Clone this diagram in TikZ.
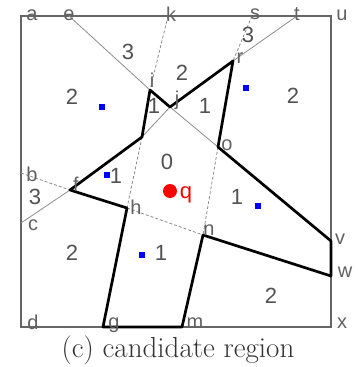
\documentclass[tikz,border=0pt]{standalone}
\usepackage{fontspec}
\newfontfamily\labfont{Liberation Sans}
\begin{document}
\begin{tikzpicture}[x=1pt,y=-1pt,
  lbl/.style={font=\labfont\fontsize{20}{20}\selectfont, text=black!62, inner sep=0pt},
  reg/.style={font=\labfont\fontsize{22}{22}\selectfont, text=black!68, inner sep=0pt},
  thinline/.style={draw=black!45, line width=0.8pt},
  dashline/.style={draw=black!45, line width=0.8pt, dash pattern=on 3pt off 2pt},
  frameline/.style={draw=black!60, line width=1.8pt},
  polyline/.style={draw=black, line width=2.7pt, line join=round},
  site/.style={fill=blue, minimum size=6.5pt, inner sep=0pt, draw=none}
]
\useasboundingbox (0,0) rectangle (357,367);
% corner and edge points
\coordinate (pa) at (21,16);
\coordinate (pe) at (69,16);
\coordinate (pk) at (168,16);
\coordinate (ps) at (252,16);
\coordinate (pt) at (297,16);
\coordinate (pu) at (331,16);
\coordinate (pb) at (21,173);
\coordinate (pc) at (21,223);
\coordinate (pd) at (21,327);
\coordinate (px) at (331,327);
\coordinate (pv) at (331,241);
\coordinate (pw) at (331,276);
% interior vertices
\coordinate (pi) at (150,90);
\coordinate (pj) at (170,107);
\coordinate (pr) at (233,61);
\coordinate (po) at (218,147);
\coordinate (pn) at (203,235);
\coordinate (pm) at (182,327);
\coordinate (pg) at (103,327);
\coordinate (ph) at (127,208);
\coordinate (pf) at (70,190);
\coordinate (pl) at (142,137);
% frame
\draw[frameline] (pa) -- (pu) -- (px) -- (pd) -- cycle;
% thin solid lines
\draw[thinline] (pe) -- (pi);
\draw[thinline] (pj) -- (po);
\draw[thinline] (pt) -- (pr);
\draw[thinline] (pj) -- (pl);
\draw[thinline] (pf) -- (pc);
% dashed lines
\draw[dashline] (pk) -- (pi);
\draw[dashline] (pl) -- (ph);
\draw[dashline] (ps) -- (pr);
\draw[dashline] (po) -- (pn);
\draw[dashline] (pb) -- (pf);
\draw[dashline] (ph) -- (pn);
% candidate polygon
\draw[polyline] (pf) -- (pl) -- (pi) -- (pj) -- (pr) -- (po) -- (pv) -- (pw) -- (pn) -- (pm) -- (pg) -- (ph) -- cycle;
% vertex labels
\node[lbl] (la) at (32,15) {a};
\node[lbl] (le) at (69,15) {e};
\node[lbl] (lk) at (171,14) {k};
\node[lbl] (ls) at (255,14) {s};
\node[lbl] (lt) at (297,14) {t};
\node[lbl] (lu) at (342,15) {u};
\node[lbl] (lb) at (32,174) {b};
\node[lbl] (lc) at (33,225) {c};
\node[lbl] (ld) at (33,322) {d};
\node[lbl] (lg) at (114,325) {g};
\node[lbl] (lm) at (195,323) {m};
\node[lbl] (lx) at (342,323) {x};
\node[lbl] (lw) at (345,272) {w};
\node[lbl] (lv) at (340,239) {v};
\node[lbl] (ln) at (209,230) {n};
\node[lbl] (lo) at (227,145) {o};
\node[lbl] (lh) at (136,207) {h};
\node[lbl] (lf) at (76,184) {f};
\node[lbl] (lr) at (240,58) {r};
\node[lbl] (li) at (152,80) {i};
\node[lbl] (lj) at (177,100) {j};
% region numbers
\node[reg] (r1) at (128,52) {3};
\node[reg] (r2) at (72,97) {2};
\node[reg] (r3) at (182,73) {2};
\node[reg] (r4) at (248,35) {3};
\node[reg] (r5) at (154,106) {1};
\node[reg] (r6) at (205,106) {1};
\node[reg] (r7) at (293,96) {2};
\node[reg] (r8) at (167,162) {0};
\node[reg] (r9) at (116,176) {1};
\node[reg] (r10) at (35,197) {3};
\node[reg] (r11) at (72,253) {2};
\node[reg] (r12) at (161,253) {1};
\node[reg] (r13) at (237,197) {1};
\node[reg] (r14) at (271,296) {2};
% sites
\node[site] (s1) at (102,107) {};
\node[site] (s2) at (246,88) {};
\node[site] (s3) at (107,175) {};
\node[site] (s4) at (258,206) {};
\node[site] (s5) at (142,255) {};
% query point
\node[circle, fill=red, minimum size=14pt, inner sep=0pt] (q) at (170,191) {};
\node[lbl, text=red, font=\labfont\fontsize{22}{22}\selectfont] (lq) at (186,195) {q};
% caption
\node[font=\fontsize{29}{32}\selectfont, text=black!80, inner sep=0pt] (cap) at (178,350) {(c) candidate region};
\end{tikzpicture}
\end{document}
